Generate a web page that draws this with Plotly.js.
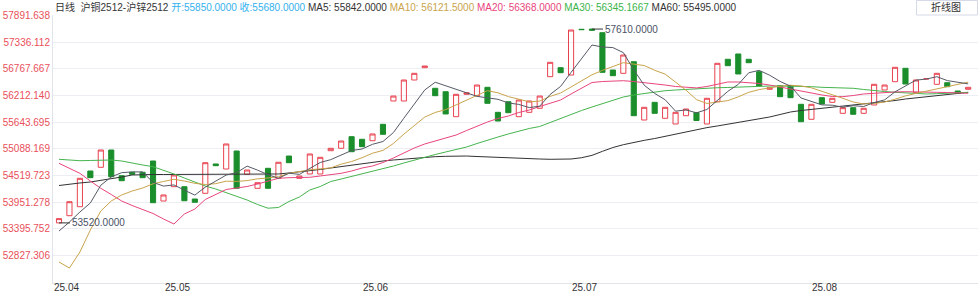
<!DOCTYPE html>
<html>
<head>
<meta charset="utf-8">
<script src="https://cdn.plot.ly/plotly-3.0.1.min.js"></script>
<style>
html,body{margin:0;padding:0;background:#ffffff;}
#chart{width:978px;height:294px;}
</style>
</head>
<body>
<div id="chart"></div>
<script>
// ---------------- data ----------------
const periodName = "日线";
const productName = "沪铜2512-沪锌2512";
const buttonLabel = "折线图";

const dates = [
"2025-04-17","2025-04-18","2025-04-21","2025-04-22","2025-04-23","2025-04-24","2025-04-25","2025-04-28","2025-04-29","2025-04-30",
"2025-05-06","2025-05-07","2025-05-08","2025-05-09","2025-05-12","2025-05-13","2025-05-14","2025-05-15","2025-05-16","2025-05-19",
"2025-05-20","2025-05-21","2025-05-22","2025-05-23","2025-05-26","2025-05-27","2025-05-28","2025-05-29","2025-05-30",
"2025-06-03","2025-06-04","2025-06-05","2025-06-06","2025-06-09","2025-06-10","2025-06-11","2025-06-12","2025-06-13","2025-06-16",
"2025-06-17","2025-06-18","2025-06-19","2025-06-20","2025-06-23","2025-06-24","2025-06-25","2025-06-26","2025-06-27","2025-06-30",
"2025-07-01","2025-07-02","2025-07-03","2025-07-04","2025-07-07","2025-07-08","2025-07-09","2025-07-10","2025-07-11","2025-07-14",
"2025-07-15","2025-07-16","2025-07-17","2025-07-18","2025-07-21","2025-07-22","2025-07-23","2025-07-24","2025-07-25","2025-07-28",
"2025-07-29","2025-07-30","2025-07-31",
"2025-08-01","2025-08-04","2025-08-05","2025-08-06","2025-08-07","2025-08-08","2025-08-11","2025-08-12","2025-08-13","2025-08-14",
"2025-08-15","2025-08-18","2025-08-19","2025-08-20","2025-08-21","2025-08-22"
];

const opens = [
53520,53672,53862,54615,54693,55058,54516,54588,54588,54826,
53982,54284,54284,54024,54144,54763,54657,55037,54545,54250,
54672,54461,54931,54461,54552,54552,55043,55094,55339,55284,
55254,55600,56092,56092,56535,56795,56360,56288,55761,56233,
56204,56381,55853,56077,55761,55853,55938,56605,56795,56640,
57605,57610,57533,56746,56676,56921,55691,56064,55727,55607,
55782,55850,55607,56077,56972,57084,56972,56710,56339,56415,
56415,56022,55706,56162,56064,55832,55951,55832,56008,56324,
56499,56782,56267,56560,56444,56478,56303,56339
];

const closes = [
53610,53967,54461,54474,55058,54495,54410,54545,54474,53946,
54109,54531,53988,53955,54790,54727,55185,54250,54636,54368,
54250,54799,54790,54509,54974,54904,55094,55248,55022,55128,
55396,55389,56197,56535,56676,56830,56204,55818,56233,56267,
56429,56043,55670,55845,56113,56092,56197,56908,56689,57590,
57598,57585,56697,56626,57062,55782,55959,55832,55959,55853,
55923,55680,56149,56887,56837,56662,56900,56408,56373,56183,
56162,55655,56022,56029,56149,55951,55811,55938,56444,56429,
56803,56450,56535,56560,56676,56394,56254,56381
];

const ma5 = [
53349,53539,53750,53940,54314,54491,54580,54596,54596,54374,
54297,54321,54210,54106,54275,54398,54529,54581,54718,54633,
54538,54461,54569,54543,54664,54795,54854,54946,55048,55079,
55178,55237,55426,55729,56039,56325,56488,56413,56352,56270,
56190,56158,56128,56051,56020,55953,55983,56231,56400,56695,
56997,57273,57231,57219,57113,56749,56425,56252,56119,55877,
55905,55842,55913,56098,56295,56443,56687,56739,56636,56505,
56405,56156,56079,56010,56003,55961,55992,55976,56059,56115,
56285,56413,56532,56555,56605,56523,56484,56453
];

const ma10 = [
52695,52568,52906,53370,53771,53982,54109,54193,54256,54344,
54394,54440,54404,54355,54330,54348,54400,54396,54412,54450,
54468,54495,54565,54605,54640,54660,54680,54760,54815,54895,
54990,55050,55195,55392,55572,55753,55850,55910,56010,56110,
56220,56310,56265,56185,56130,56075,56090,56190,56260,56390,
56505,56645,56738,56820,56900,56870,56840,56740,56660,56490,
56320,56121.5,56040,56070,56100,56180,56275,56333,56372,56404,
56425,56410,56370,56300,56230,56150,56070,56030,56040,56070,
56130,56200,56252,56300,56352,56395,56444,56490
];

const ma20 = [
54777,54678,54566,54404,54250,54119,53982,53887,53803,53718,
53602,53497,53708,53813,54014,54119,54225,54256,54288,54341,
54404,54461,54474,54482,54482,54510,54541,54566,54615,54678,
54720,54794,54889,54995,55100,55185,55248,55301,55374,55469,
55564,55649,55723,55775,55849,55902,55976,56039,56113,56240,
56366,56482,56503,56514,56520,56503,56482,56461,56429,56398,
56377,56368,56398,56451,56493,56493,56482,56461,56429,56387,
56335,56303,56261,56219,56187,56183,56208,56240,56254,56271,
56282,56288,56288,56282,56275,56271,56261,56254
];

const ma30 = [
54862,54847,54832,54837,54843,54847,54826,54777,54742,54706,
54636,54552,54467,54383,54298,54235,54161,54087,54003,53908,
53830,53845,53971,54066,54214,54288,54393,54446,54499,54562,
54615,54668,54720,54784,54847,54910,54963,55016,55069,55121,
55195,55269,55332,55396,55459,55512,55554,55638,55733,55818,
55891,55965,56039,56102,56176,56219,56250,56282,56309,56324,
56339,56345.1667,56360,56372,56377,56387,56398,56408,56408,56408,
56408,56402,56394,56381,56372,56366,56360,56335,56309,56292,
56275,56261,56250,56240,56246,56254,56265,56275
];

const ma60 = [
54309,54341,54362,54383,54415,54457,54488,54531,54541,54541,
54541,54541,54541,54541,54541,54541,54541,54541,54541,54541,
54545,54552,54573,54594,54626,54647,54678,54710,54735,54763,
54794,54826,54847,54868,54889,54910,54917,54925,54931,54931,
54921,54910,54900,54889,54879,54868,54868,54862,54862,54868,
54895,54945,55030,55110,55170,55220,55262,55300,55345,55395,
55450,55495,55530,55565,55600,55638,55680,55712,55754,55807,
55860,55891,55913,55944,55972,55986,56008,56022,56050,56071,
56102,56134,56155,56176,56208,56233,56254,56275
];

const yTickValues = [57891.638,57336.112,56767.667,56212.140,55643.695,55088.169,54519.723,53951.278,53395.752,52827.306];
const monthTickDates = ["2025-04-17","2025-05-06","2025-06-03","2025-07-01","2025-08-01"];
const monthTickLabels = ["25.04","25.05","25.06","25.07","25.08"];
const infoIndex = 61;   // candle described in the header line

// ---------------- styling ----------------
const W = 978, H = 294;
const M = {l:53, r:0, t:15, b:11};
const FONT = 'Arial, "Liberation Sans", "Noto Sans CJK SC", sans-serif';
const C = {
  up:'#e8424f', down:'#1b8e2c', ma5:'#555a66', ma10:'#c9a44c', ma20:'#e9457c',
  ma30:'#46b44e', ma60:'#333333', ytick:'#e9505a', grid:'#eceef4', axis:'#e2e4ec',
  info:'#33b1ee', text:'#333333', mark:'#4a5266'
};
const X_RANGE = [-0.574, 87.94];

const highs = opens.map((o,i)=>Math.max(o, closes[i]));
const lows  = opens.map((o,i)=>Math.min(o, closes[i]));

const plotW = W - M.l - M.r;
const px = (x)=> (x - M.l) / plotW;
const py = (y)=> (H - M.b - y) / (H - M.t - M.b);

const traces = [
  {type:'candlestick', x:dates, open:opens, high:highs, low:lows, close:closes,
   increasing:{line:{color:C.up, width:1}, fillcolor:'rgba(255,255,255,0)'},
   decreasing:{line:{color:C.down, width:1}, fillcolor:C.down},
   whiskerwidth:0, hoverinfo:'skip', showlegend:false}
];
const maSeries = [[ma60,C.ma60],[ma30,C.ma30],[ma20,C.ma20],[ma10,C.ma10],[ma5,C.ma5]];
maSeries.forEach(([arr,col])=>{
  traces.push({type:'scatter', mode:'lines', x:dates, y:arr,
    line:{color:col, width:1}, hoverinfo:'skip', showlegend:false});
});

// header line
const f4 = v => Number(v).toFixed(4);
const sp = (col, txt) => '<span style="color:'+col+'">'+txt+'</span>';
const header =
  sp(C.text, periodName) + '&nbsp;&nbsp;' + sp(C.text, productName) + ' ' +
  sp(C.info, '开:' + f4(opens[infoIndex]) + ' 收:' + f4(closes[infoIndex])) + ' ' +
  sp(C.text, 'MA5: ' + f4(ma5[infoIndex])) + ' ' +
  sp(C.ma10, 'MA10: ' + f4(ma10[infoIndex])) + ' ' +
  sp(C.ma20, 'MA20: ' + f4(ma20[infoIndex])) + ' ' +
  sp('#3cb44a', 'MA30: ' + f4(ma30[infoIndex])) + ' ' +
  sp(C.text, 'MA60: ' + f4(ma60[infoIndex]));

// extremes
let iMax = 0, iMin = 0;
highs.forEach((v,i)=>{ if (v > highs[iMax]) iMax = i; });
lows.forEach((v,i)=>{ if (v < lows[iMin]) iMin = i; });

const annotations = [
  {xref:'paper', yref:'paper', x:px(53), y:py(7.5), xanchor:'left', yanchor:'middle',
   text:header, showarrow:false, font:{family:FONT, size:10, color:C.text}},
  {xref:'paper', yref:'paper', x:px(946), y:py(7.5), xanchor:'center', yanchor:'middle',
   text:buttonLabel, showarrow:false, font:{family:FONT, size:10, color:C.text}},
  {x:dates[iMax], y:highs[iMax], text:f4(highs[iMax]), showarrow:true, arrowhead:0,
   arrowwidth:1, arrowcolor:'#333', ax:11, ay:0, xanchor:'left', yanchor:'middle', standoff:0,
   font:{family:FONT, size:10, color:C.mark}},
  {x:dates[iMin], y:lows[iMin], text:f4(lows[iMin]), showarrow:true, arrowhead:0,
   arrowwidth:1, arrowcolor:'#333', ax:11, ay:0, xanchor:'left', yanchor:'middle', standoff:0,
   font:{family:FONT, size:10, color:C.mark}}
];

// month labels: left-aligned at their first trading day, kept inside the plot's left edge
monthTickDates.forEach((d, k)=>{
  const idx = dates.indexOf(d);
  const pos = M.l + (idx - X_RANGE[0]) / (X_RANGE[1] - X_RANGE[0]) * plotW;
  const xs = (pos < M.l + 8) ? (M.l - pos) : 0;
  annotations.push({xref:'x', yref:'paper', x:d, y:0, xanchor:'left', yanchor:'top',
    xshift:xs, yshift:2, borderpad:0, text:monthTickLabels[k], showarrow:false,
    font:{family:FONT, size:10, color:C.text}});
});

const shapes = [
  {type:'rect', xref:'paper', yref:'paper', x0:px(916.5), x1:px(977.5), y0:py(15), y1:py(0.5),
   line:{color:'#d6d9e7', width:1}, fillcolor:'#ffffff', layer:'below'}
];

const yTop = 57891.638 + 0.7 * 21.099;
const yBottom = yTop - (H - M.t - M.b) * 21.099;

const layout = {
  width:W, height:H, margin:M, paper_bgcolor:'#ffffff', plot_bgcolor:'#ffffff',
  font:{family:FONT, size:10, color:C.text},
  showlegend:false, hovermode:false, dragmode:false,
  xaxis:{type:'category', range:X_RANGE, showticklabels:false,
    showgrid:false, showline:true, linecolor:C.axis, linewidth:1,
    ticks:'', zeroline:false, rangeslider:{visible:false}, fixedrange:true},
  yaxis:{range:[yBottom, yTop], tickvals:yTickValues, ticktext:yTickValues.map(v=>v.toFixed(3)),
    showgrid:true, gridcolor:C.grid, gridwidth:1, showline:true, linecolor:C.axis, linewidth:1,
    zeroline:false, ticks:'', tickfont:{family:FONT, size:10, color:C.ytick}, fixedrange:true},
  annotations:annotations, shapes:shapes
};

Plotly.newPlot('chart', traces, layout, {displayModeBar:false, staticPlot:true, responsive:false});
</script>
</body>
</html>
